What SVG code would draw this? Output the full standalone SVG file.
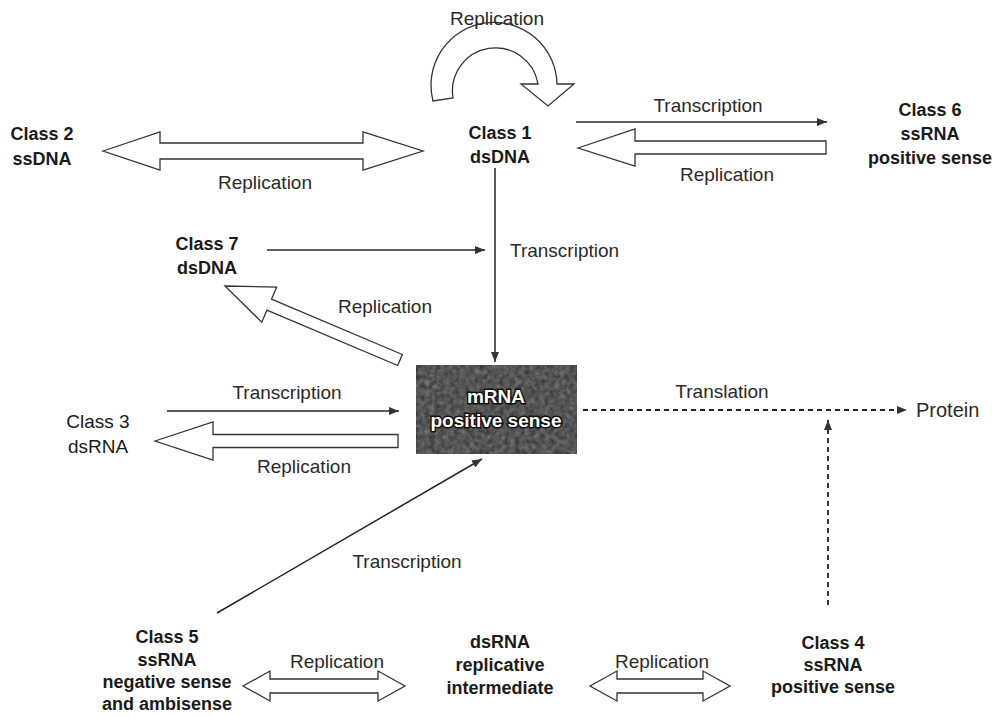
<svg xmlns="http://www.w3.org/2000/svg" width="992" height="717" viewBox="0 0 992 717">
<defs>
<style>
.cls{font-family:"Liberation Sans",Arial,sans-serif;font-weight:bold;font-size:18px;fill:#1a1a1a;text-anchor:middle}
.reg{font-weight:normal}
.lbl{font-family:"Liberation Sans",Arial,sans-serif;font-size:19px;fill:#2a2a2a;text-anchor:middle}
.hollow{fill:#fff;stroke:#333;stroke-width:1.3;stroke-linejoin:miter}
.thin{fill:none;stroke:#222;stroke-width:1.5}
.dash{fill:none;stroke:#222;stroke-width:1.8;stroke-dasharray:5 4}
.boxtxt{font-family:"Liberation Sans",Arial,sans-serif;font-weight:bold;font-size:19px;fill:#fff;stroke:#111;stroke-width:3;paint-order:stroke;text-anchor:middle}
</style>
<marker id="ah" viewBox="0 0 10 8" refX="10" refY="4" markerWidth="10" markerHeight="8" markerUnits="userSpaceOnUse" orient="auto">
<path d="M0,0 L10,4 L0,8 z" fill="#333"/>
</marker>
<filter id="grain" x="0" y="0" width="100%" height="100%">
<feTurbulence type="fractalNoise" baseFrequency="0.2" numOctaves="3" seed="7" result="n"/>
<feColorMatrix type="saturate" values="0" in="n" result="g"/>
<feComponentTransfer in="g" result="g2"><feFuncA type="linear" slope="0.3"/></feComponentTransfer>
<feComposite in="g2" in2="SourceGraphic" operator="in" result="c"/>
<feMerge><feMergeNode in="SourceGraphic"/><feMergeNode in="c"/></feMerge>
</filter>
</defs>
<rect width="992" height="717" fill="#fff"/>

<g id="connectors">
<path class="hollow" d="M433,101 A63,63 0 1 1 557,84 L574,84 L548,106 L521,84 L538,84 A43,43 0 1 0 453,98 Z"/>
<polygon class="hollow" points="103,151 160,132 160,143 363,143 363,132 423,151 363,170 363,159 160,159 160,170"/>
<line class="thin" x1="576" y1="122" x2="827" y2="122" marker-end="url(#ah)"/>
<polygon class="hollow" points="578,148 635,129 635,141 826,141 826,154 635,154 635,166"/>
<line class="thin" x1="495" y1="168" x2="495" y2="362" marker-end="url(#ah)"/>
<line class="thin" x1="267" y1="250" x2="485" y2="250" marker-end="url(#ah)"/>
<polygon class="hollow" points="225,286 276.6,287.2 271.5,299.2 402.3,354.5 397.7,365.5 266.9,310.2 261.8,322.2"/>
<line class="thin" x1="167" y1="411" x2="399" y2="411" marker-end="url(#ah)"/>
<polygon class="hollow" points="155,441 213,422 213,434.5 398,434.5 398,447.5 213,447.5 213,460"/>
<line class="dash" x1="583" y1="410" x2="907" y2="410" marker-end="url(#ah)"/>
<line class="dash" x1="828" y1="605" x2="828" y2="420" marker-end="url(#ah)"/>
<line class="thin" x1="217" y1="613" x2="482" y2="459" marker-end="url(#ah)"/>
<polygon class="hollow" points="243,686 270,671 270,679 378,679 378,671 405,686 378,701 378,693 270,693 270,701"/>
<polygon class="hollow" points="590,686 617,671 617,679 703,679 703,671 730,686 703,701 703,693 617,693 617,701"/>
</g>

<g id="labels">
<text class="lbl" x="497" y="25">Replication</text>
<text class="lbl" x="265" y="189">Replication</text>
<text class="lbl" x="708" y="112">Transcription</text>
<text class="lbl" x="727" y="181">Replication</text>
<text class="lbl" x="510" y="257" style="text-anchor:start">Transcription</text>
<text class="lbl" x="385" y="313">Replication</text>
<text class="lbl" x="287" y="399">Transcription</text>
<text class="lbl" x="304" y="473">Replication</text>
<text class="lbl" x="722" y="398">Translation</text>
<text class="lbl" x="407" y="568">Transcription</text>
<text class="lbl" x="337" y="668">Replication</text>
<text class="lbl" x="662" y="668">Replication</text>
</g>

<g id="class1"><text class="cls" x="500" y="139">Class 1</text><text class="cls" x="500" y="163">dsDNA</text></g>
<g id="class2"><text class="cls" x="42" y="140">Class 2</text><text class="cls" x="42" y="165">ssDNA</text></g>
<g id="class6"><text class="cls" x="930" y="116">Class 6</text><text class="cls" x="930" y="140">ssRNA</text><text class="cls" x="930" y="164">positive sense</text></g>
<g id="class7"><text class="cls" x="207" y="250">Class 7</text><text class="cls" x="207" y="274">dsDNA</text></g>
<g id="class3"><text class="cls reg" x="98" y="428" style="font-size:19px">Class 3</text><text class="cls reg" x="98" y="453" style="font-size:19px">dsRNA</text></g>
<g id="mrna">
<rect x="416" y="365" width="161" height="89" fill="#2c2c2c" stroke="#1a1a1a" stroke-width="1.5" filter="url(#grain)"/>
<text class="boxtxt" x="496" y="403">mRNA</text>
<text class="boxtxt" x="496" y="427">positive sense</text>
</g>
<g id="protein"><text class="lbl" x="916" y="417" style="text-anchor:start;font-size:20px">Protein</text></g>
<g id="class5"><text class="cls" x="167" y="643">Class 5</text><text class="cls" x="167" y="665.5">ssRNA</text><text class="cls" x="167" y="688">negative sense</text><text class="cls" x="167" y="710">and ambisense</text></g>
<g id="dsrna"><text class="cls" x="500" y="648">dsRNA</text><text class="cls" x="500" y="671">replicative</text><text class="cls" x="500" y="694">intermediate</text></g>
<g id="class4"><text class="cls" x="833" y="649">Class 4</text><text class="cls" x="833" y="671">ssRNA</text><text class="cls" x="833" y="693">positive sense</text></g>
</svg>
